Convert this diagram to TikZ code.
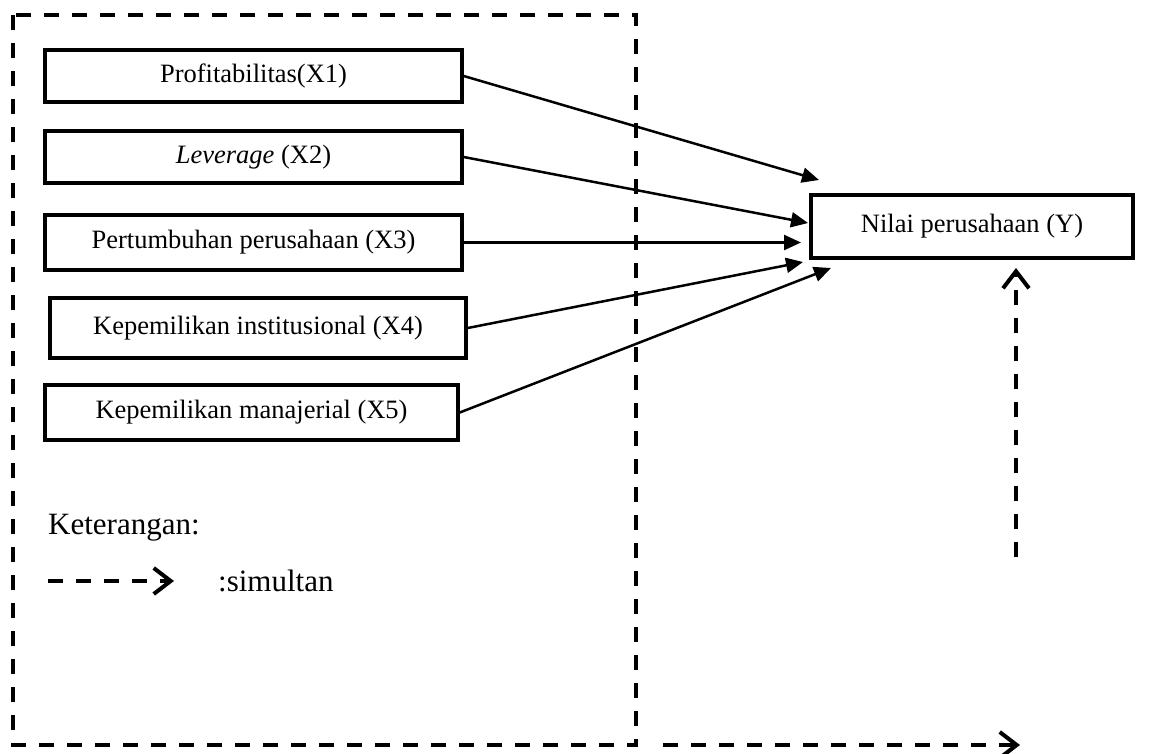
\documentclass[tikz,border=0pt]{standalone}
\usepackage{fontspec}
\setmainfont{Liberation Serif}
\usetikzlibrary{arrows.meta}

\begin{document}
\begin{tikzpicture}[x=1pt,y=-1pt,
  varbox/.style={draw,line width=3.5pt,minimum width=417pt,minimum height=52pt,inner sep=0pt,font=\fontsize{26.5}{30}\selectfont},
  arr/.style={-{Triangle[length=17pt,width=15pt]},line width=2.5pt},
  simarr/.style={-{Straight Barb[length=17pt,width=26pt,line width=4pt]},line width=3.8pt,dash pattern=on 15pt off 13pt},
  simframe/.style={line width=4pt,dash pattern=on 15pt off 13pt},
  legend/.style={anchor=west,inner sep=0pt,font=\fontsize{31}{36}\selectfont}]
  \useasboundingbox (0,0) rectangle (1158,753);
  % simultaneous frame round the independent variables
  \draw[simframe] (13,15) rectangle (636,745);
  \node[varbox] (prof) at (253.5,76) {Profitabilitas(X1)};
  \node[varbox] (lev) at (253.5,157) {\textit{Leverage} (X2)};
  \node[varbox,minimum height=55pt] (grow) at (253.5,242.5) {Pertumbuhan perusahaan (X3)};
  \node[varbox,minimum width=416pt,minimum height=60pt] (inst) at (258,328) {Kepemilikan institusional (X4)};
  \node[varbox,minimum width=413pt,minimum height=55pt] (mgr) at (251.5,412.5) {Kepemilikan manajerial (X5)};
  \node[varbox,minimum width=322pt,minimum height=63pt] (firm) at (972,226.5) {Nilai perusahaan (Y)};
  % arrow tips stop short of the dependent box
  \coordinate (t1) at (819,180);
  \coordinate (t2) at (808,223);
  \coordinate (t3) at (801,242.5);
  \coordinate (t4) at (803,262);
  \coordinate (t5) at (831,268);
  \draw[arr] (prof.east) -- (t1);
  \draw[arr] (lev.east) -- (t2);
  \draw[arr] (grow.east) -- (t3);
  \draw[arr] (inst.east) -- (t4);
  \draw[arr] (mgr.east) -- (t5);
  \coordinate (upfrom) at (1016,557);
  \coordinate (upto) at (1016,268);
  \draw[simarr] (upfrom) -- (upto);
  \coordinate (botfrom) at (663,745);
  \coordinate (botto) at (1020,745);
  \draw[simarr] (botfrom) -- (botto);
  % legend
  \node[legend] (ket) at (48,528) {Keterangan:};
  \coordinate (legfrom) at (48,581);
  \coordinate (legto) at (174,581);
  \draw[simarr] (legfrom) -- (legto);
  \node[legend] (sim) at (218,581) {:simultan};
\end{tikzpicture}
\end{document}
